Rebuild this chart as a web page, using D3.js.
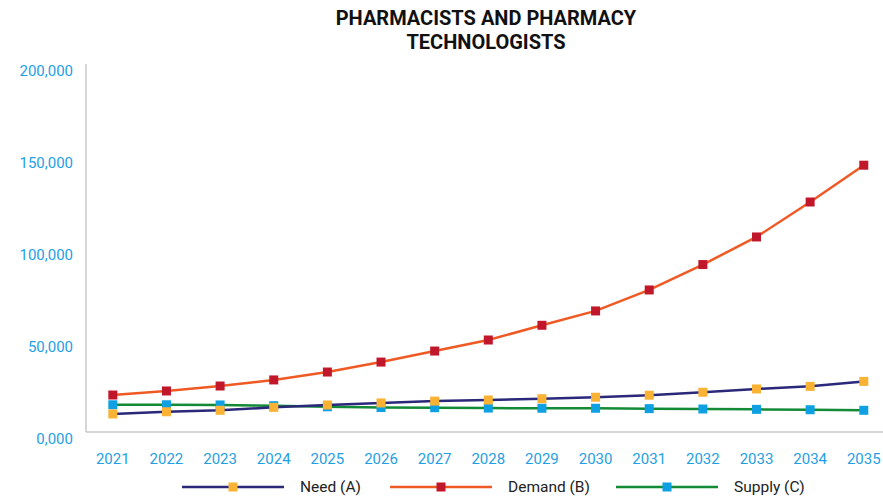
<!DOCTYPE html>
<html>
<head>
<meta charset="utf-8">
<script src="https://cdn.jsdelivr.net/npm/d3@7"></script>
<style>
  body { margin: 0; background: #fff; }
  text { font-family: Roboto, "Noto Sans", sans-serif; }
</style>
</head>
<body>
<script>
var years = [2021, 2022, 2023, 2024, 2025, 2026, 2027, 2028, 2029, 2030, 2031, 2032, 2033, 2034, 2035];
var need = [9800, 11000, 11800, 13400, 14700, 15800, 16800, 17400, 18100, 18900, 20000, 21600, 23400, 24800, 27500];
var demand = [20100, 22300, 25000, 28300, 32600, 38000, 44000, 50000, 58000, 65800, 77200, 91000, 106000, 125000, 145000];
var supply = [14800, 14800, 14700, 14300, 13700, 13300, 13200, 13000, 12900, 12900, 12700, 12500, 12300, 12100, 11800];
var yTicks = [0, 50000, 100000, 150000, 200000];
var yTickLabels = ["0,000", "50,000", "100,000", "150,000", "200,000"];

var series = [
  { name: "Supply (C)", values: supply, line: "#138a36", marker: "#0ea0e2" },
  { name: "Need (A)", values: need, line: "#2a2879", marker: "#f9b234" },
  { name: "Demand (B)", values: demand, line: "#ef5a24", marker: "#c1172b" }
];
var legendOrder = [series[1], series[2], series[0]];

var svg = d3.select("body").append("svg")
            .attr("width", 883)
            .attr("height", 500);

// title
svg.append("text").attr("x", 486).attr("y", 25).attr("text-anchor", "middle")
   .style("font-size", "20px").style("font-weight", "bold").attr("fill", "#111")
   .text("PHARMACISTS AND PHARMACY");
svg.append("text").attr("x", 486).attr("y", 49).attr("text-anchor", "middle")
   .style("font-size", "20px").style("font-weight", "bold").attr("fill", "#111")
   .text("TECHNOLOGISTS");

var x = d3.scaleBand().domain(years).range([86, 86 + 15 * 53.64]);
var y = d3.scaleLinear().domain([0, 200000]).range([432, 64]);

// axes lines
svg.append("line").attr("x1", 86).attr("x2", 86).attr("y1", 64).attr("y2", 432)
   .attr("stroke", "#c9c9c9").attr("stroke-width", 1.5);
svg.append("line").attr("x1", 86).attr("x2", 883).attr("y1", 432).attr("y2", 432)
   .attr("stroke", "#c9c9c9").attr("stroke-width", 1.5);

// y labels
svg.selectAll(".ylab").data(yTicks).enter().append("text")
   .attr("class", "ylab")
   .attr("x", 73).attr("y", function (d) { return y(d) + 12; })
   .attr("text-anchor", "end")
   .style("font-size", "15px").attr("fill", "#1fa0e4")
   .text(function (d, i) { return yTickLabels[i]; });

// x labels
svg.selectAll(".xlab").data(years).enter().append("text")
   .attr("class", "xlab")
   .attr("x", function (d) { return x(d) + x.bandwidth() / 2; }).attr("y", 464)
   .attr("text-anchor", "middle")
   .style("font-size", "15px").attr("fill", "#1fa0e4")
   .text(function (d) { return d; });

var line = d3.line()
  .x(function (d, i) { return x(years[i]) + x.bandwidth() / 2; })
  .y(function (d) { return y(d); });

series.forEach(function (s) {
  var g = svg.append("g");
  g.append("path").datum(s.values).attr("d", line)
   .attr("fill", "none").attr("stroke", s.line).attr("stroke-width", 2.5);
  g.selectAll("rect").data(s.values).enter().append("rect")
   .attr("x", function (d, i) { return x(years[i]) + x.bandwidth() / 2 - 4.5; })
   .attr("y", function (d) { return y(d) - 4.5; })
   .attr("width", 9).attr("height", 9)
   .attr("fill", s.marker);
});

// legend
var legX = [182, 390, 616];
legendOrder.forEach(function (s, i) {
  var lx = legX[i];
  svg.append("line").attr("x1", lx).attr("x2", lx + 102).attr("y1", 487).attr("y2", 487)
     .attr("stroke", s.line).attr("stroke-width", 2.5);
  svg.append("rect").attr("x", lx + 51 - 4.5).attr("y", 487 - 4.5)
     .attr("width", 9).attr("height", 9).attr("fill", s.marker);
  svg.append("text").attr("x", lx + 118).attr("y", 492)
     .style("font-size", "15.5px").attr("fill", "#222")
     .text(s.name);
});
</script>
</body>
</html>
